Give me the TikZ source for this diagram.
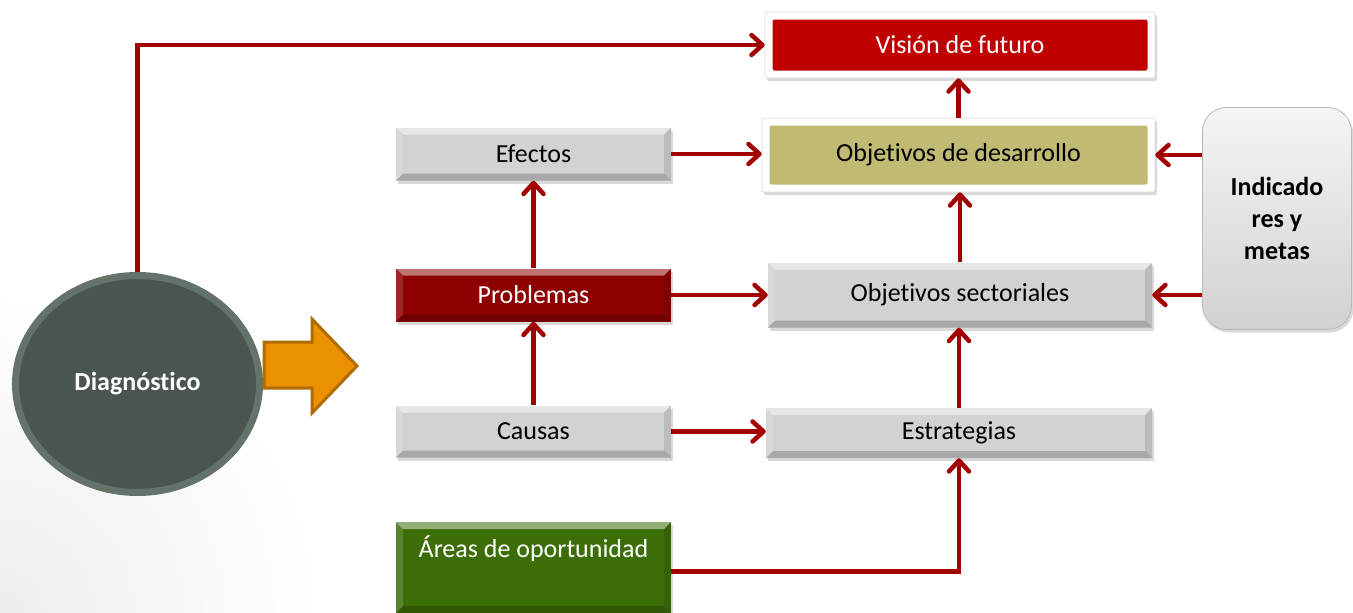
\documentclass[tikz,border=0pt]{standalone}
\usepackage{fontspec}
\setmainfont{Carlito}[Ligatures={NoCommon}]
\usetikzlibrary{arrows.meta,shadows,shapes.geometric}
\definecolor{conn}{HTML}{A30000}
\definecolor{visred}{HTML}{C00000}
\definecolor{olive}{HTML}{C0BA73}
\definecolor{boxgrey}{HTML}{D2D2D2}
\definecolor{probred}{HTML}{8E0000}
\definecolor{areagreen}{HTML}{3C6E08}
\definecolor{circfill}{HTML}{4A554D}
\definecolor{circring}{HTML}{63736A}
\definecolor{orfill}{HTML}{EB9000}
\definecolor{orline}{HTML}{B06C00}
\tikzset{
  shad/.style={drop shadow={shadow xshift=2pt,shadow yshift=-3pt,opacity=0.3}},
  bevel/.style={path picture={
    \coordinate (bnw) at (path picture bounding box.north west);
    \coordinate (bne) at (path picture bounding box.north east);
    \coordinate (bsw) at (path picture bounding box.south west);
    \coordinate (bse) at (path picture bounding box.south east);
    \fill[white,opacity=.45] (bnw) -- (bne) -- ([shift={(-7pt,-7pt)}]bne) -- ([shift={(7pt,-7pt)}]bnw) -- cycle;
    \fill[white,opacity=.15] (bnw) -- ([shift={(7pt,-7pt)}]bnw) -- ([shift={(7pt,7pt)}]bsw) -- (bsw) -- cycle;
    \fill[black,opacity=.10] (bne) -- ([shift={(-7pt,-7pt)}]bne) -- ([shift={(-7pt,7pt)}]bse) -- (bse) -- cycle;
    \fill[black,opacity=.20] (bsw) -- ([shift={(7pt,7pt)}]bsw) -- ([shift={(-7pt,7pt)}]bse) -- (bse) -- cycle;
  }},
  gbox/.style={rectangle, inner sep=0pt, fill=#1, bevel, shad, minimum width=275pt},
  frame/.style={rectangle, inner sep=0pt, fill=white, draw=black!15, line width=0.6pt, rounded corners=2pt, shad,
    path picture={\fill[#1] ([shift={(7.5pt,-7.5pt)}]path picture bounding box.north west) rectangle ([shift={(-7.5pt,7.5pt)}]path picture bounding box.south east);}},
  conn/.style={draw=conn, line width=4.5pt, -{Straight Barb[length=11pt,width=20pt,round]}},
}
\begin{document}
\begin{tikzpicture}[x=1pt,y=-1pt,font=\fontsize{26}{32}\selectfont]
\useasboundingbox (0,0) rectangle (1353,613);
% faint background shading in the lower-left corner
\shade[inner color=black!7, outer color=white] (0,613) circle[radius=320pt];

% framed boxes
\node[frame=visred, text=white, minimum width=390pt, minimum height=66pt] (vis) at (960,45) {Visión de futuro};
\node[frame=olive, minimum width=393pt, minimum height=74pt] (des) at (958.5,155) {Objetivos de desarrollo};

% left column
\node[gbox=boxgrey, minimum height=53pt] (efe) at (533.5,154) {Efectos};
\node[gbox=probred, text=white, minimum height=53pt] (pro) at (533.5,295) {Problemas};
\node[gbox=boxgrey, minimum height=52pt] (cau) at (533.5,431.5) {Causas};
\node[gbox=areagreen, text=white, anchor=north, inner ysep=0pt, text height=35pt, text depth=56pt] (are) at (533.5,522) {Áreas de oportunidad};

% right column
\node[gbox=boxgrey, minimum width=384pt, minimum height=65pt] (sec) at (960,295) {Objetivos sectoriales};
\node[gbox=boxgrey, minimum width=386pt, minimum height=50pt] (est) at (959,433) {Estrategias};

% indicators
\node[rectangle, rounded corners=24pt, top color=white!96!black, bottom color=white!82!black, draw=black!28, line width=0.8pt,
      minimum width=149pt, minimum height=222pt, shad, align=center, font=\fontsize{26}{32}\selectfont\bfseries] (ind) at (1277,218.5) {Indicado\\res y\\metas};

% diagnostic circle
\node[ellipse, minimum width=244pt, minimum height=217pt, fill=circfill, draw=circring, line width=7pt, text=white, font=\fontsize{26}{32}\selectfont\bfseries] (diag) at (137.5,384) {Diagnóstico};

% orange block arrow
\draw[orline, fill=orfill, line width=3pt, line join=miter] (264,342) -- (312,342) -- (312,319) -- (357,366) -- (312,413) -- (312,388) -- (264,388) -- cycle;

% connectors
\draw[conn] (diag.north) -- (diag.north |- vis.west) -- (vis.west);
\draw[conn] (des.north) -- (vis.south -| des.north);
\draw[conn] (efe.east) -- (des.west |- efe.east);
\draw[conn] (pro.east) -- (sec.west);
\draw[conn] (pro.north) -- (efe.south);
\draw[conn] (cau.north) -- (pro.south);
\draw[conn] (cau.east) -- (est.west |- cau.east);
\draw[conn] (sec.north) -- (des.south -| sec.north);
\draw[conn] (est.north) -- (sec.south -| est.north);
\draw[conn] ([yshift=-4pt]are.east) -- ([yshift=-4pt]are.east -| est.south) -- (est.south);
\draw[conn] (ind.west |- des.east) -- (des.east);
\draw[conn] (ind.west |- sec.east) -- (sec.east);
\end{tikzpicture}
\end{document}
